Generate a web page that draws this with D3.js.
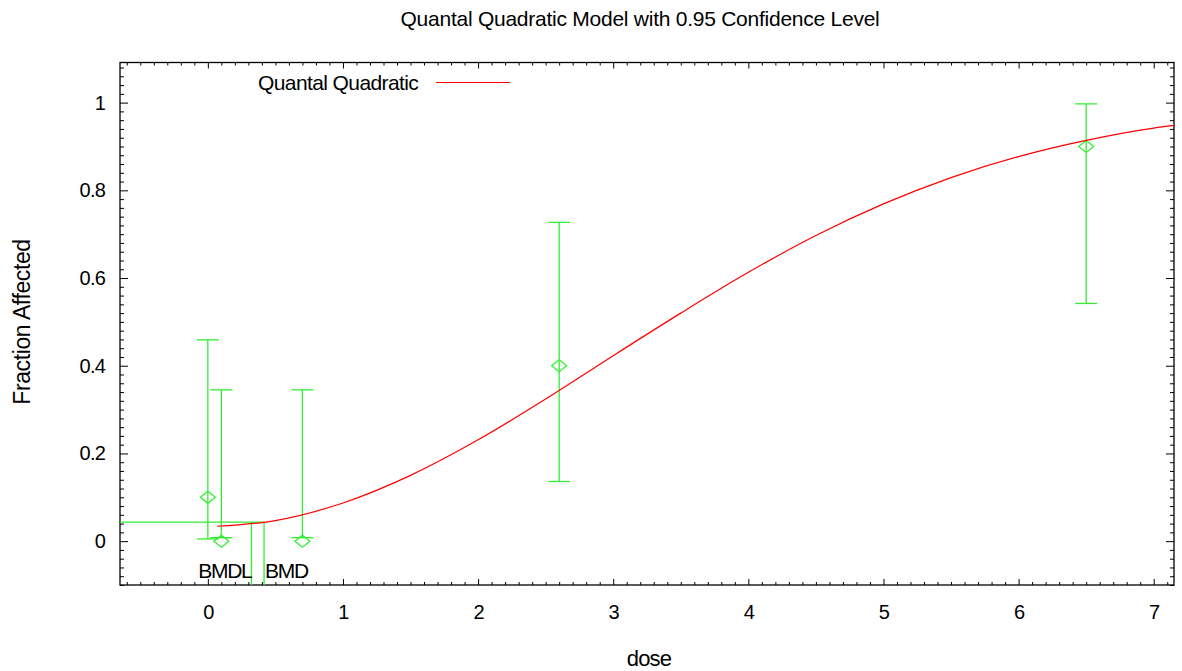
<!DOCTYPE html>
<html>
<head>
<meta charset="utf-8">
<script src="https://cdn.jsdelivr.net/npm/d3@7"></script>
<style>
  html, body { margin: 0; padding: 0; background: #fff; }
  svg { display: block; font-family: "Liberation Sans", Arial, sans-serif; }
  .domain { display: none; }
</style>
</head>
<body>
<svg id="chart" width="1182" height="671"></svg>
<script>
// ---- data ----
const doses    = [0, 0.1, 0.7, 2.6, 6.5];
const observed = [0.1, 0, 0, 0.4, 0.9];
const lowerCI  = [0.005, 0.008, 0.008, 0.136, 0.542];
const upperCI  = [0.459, 0.345, 0.345, 0.727, 0.997];

const curveDose = [0.07, 0.5, 1, 1.5, 2, 2.5, 3, 3.5, 4, 4.5, 5, 5.5, 6, 6.5, 7, 7.15];
const curveFrac = [0.034, 0.047, 0.087, 0.150, 0.231, 0.324, 0.423, 0.520, 0.613, 0.697, 0.769, 0.829, 0.877, 0.914, 0.942, 0.948];

const bmd = 0.416, bmdl = 0.323, bmrLevel = 0.0435;

const xTicks = [0, 1, 2, 3, 4, 5, 6, 7];
const yTicks = [0, 0.2, 0.4, 0.6, 0.8, 1];
const xDomain = [-0.65, 7.15];
const yDomain = [-0.1, 1.0915];

const titleText = "Quantal Quadratic Model with 0.95 Confidence Level";
const legendLabel = "Quantal Quadratic";
const xLabel = "dose";
const yLabel = "Fraction Affected";

// ---- layout ----
const svg = d3.select("#chart");
const L = 120, R = 1174, T = 62.5, B = 585;
const green = "#33ee33", red = "#ff0000";

const x = d3.scaleLinear().domain(xDomain).range([L, R]);
const y = d3.scaleLinear().domain(yDomain).range([B, T]);

const xMinor = d3.range(-6, 72).map(i => i / 10).filter(v => v >= xDomain[0] && v <= xDomain[1] && Math.abs(v - Math.round(v)) > 1e-6);
const yMinor = d3.range(-5, 55).map(i => i / 50).filter(v => v >= yDomain[0] && v <= yDomain[1] && Math.abs(v * 5 - Math.round(v * 5)) > 1e-6);

svg.append("defs").append("clipPath").attr("id", "plotclip")
  .append("rect").attr("x", L).attr("y", T).attr("width", R - L).attr("height", B - T);

// frame
svg.append("rect").attr("x", L).attr("y", T).attr("width", R - L).attr("height", B - T)
  .attr("fill", "none").attr("stroke", "#000").attr("stroke-width", 1.3);

const tickStyle = g => g.selectAll("line").attr("stroke", "#000").attr("stroke-width", 1);
const labelStyle = g => g.selectAll("text").attr("font-size", 20).attr("letter-spacing", -0.8)
  .attr("fill", "#000").style("font-family", "Liberation Sans, Arial, sans-serif");

// bottom axis (labels + major ticks)
svg.append("g").attr("transform", `translate(0,${B})`)
  .call(d3.axisBottom(x).tickValues(xTicks).tickSizeInner(-6).tickSizeOuter(0).tickPadding(20).tickFormat(d3.format("d")))
  .call(tickStyle).call(labelStyle);
svg.append("g").attr("transform", `translate(0,${B})`)
  .call(d3.axisBottom(x).tickValues(xMinor).tickSizeInner(-3).tickSizeOuter(0).tickFormat(""))
  .call(tickStyle);
// top axis
svg.append("g").attr("transform", `translate(0,${T})`)
  .call(d3.axisTop(x).tickValues(xTicks).tickSizeInner(-6).tickSizeOuter(0).tickFormat(""))
  .call(tickStyle);
svg.append("g").attr("transform", `translate(0,${T})`)
  .call(d3.axisTop(x).tickValues(xMinor).tickSizeInner(-3).tickSizeOuter(0).tickFormat(""))
  .call(tickStyle);
// left axis
svg.append("g").attr("transform", `translate(${L},0)`)
  .call(d3.axisLeft(y).tickValues(yTicks).tickSizeInner(-8).tickSizeOuter(0).tickPadding(15).tickFormat(d => d === 0 ? "0" : d === 1 ? "1" : d3.format(".1f")(d)))
  .call(tickStyle).call(labelStyle);
svg.append("g").attr("transform", `translate(${L},0)`)
  .call(d3.axisLeft(y).tickValues(yMinor).tickSizeInner(-4).tickSizeOuter(0).tickFormat(""))
  .call(tickStyle);
// right axis
svg.append("g").attr("transform", `translate(${R},0)`)
  .call(d3.axisRight(y).tickValues(yTicks).tickSizeInner(-8).tickSizeOuter(0).tickFormat(""))
  .call(tickStyle);
svg.append("g").attr("transform", `translate(${R},0)`)
  .call(d3.axisRight(y).tickValues(yMinor).tickSizeInner(-4).tickSizeOuter(0).tickFormat(""))
  .call(tickStyle);

const plot = svg.append("g").attr("clip-path", "url(#plotclip)");

// BMD / BMDL lines
plot.append("line").attr("x1", L).attr("x2", x(bmd)).attr("y1", y(bmrLevel)).attr("y2", y(bmrLevel))
  .attr("stroke", green).attr("stroke-width", 1.3);
plot.append("line").attr("x1", x(bmdl)).attr("x2", x(bmdl)).attr("y1", y(bmrLevel)).attr("y2", B)
  .attr("stroke", green).attr("stroke-width", 1.3);
plot.append("line").attr("x1", x(bmd)).attr("x2", x(bmd)).attr("y1", y(bmrLevel)).attr("y2", B)
  .attr("stroke", green).attr("stroke-width", 1.3);

// error bars
const capW = 11;
const eb = plot.selectAll(".eb").data(doses.map((d, i) => ({d, lo: lowerCI[i], hi: upperCI[i], v: observed[i]})))
  .enter().append("g").attr("stroke", green).attr("stroke-width", 1.3).attr("fill", "none");
eb.append("line").attr("x1", d => x(d.d)).attr("x2", d => x(d.d)).attr("y1", d => y(d.lo)).attr("y2", d => y(d.hi));
eb.append("line").attr("x1", d => x(d.d) - capW).attr("x2", d => x(d.d) + capW).attr("y1", d => y(d.lo)).attr("y2", d => y(d.lo));
eb.append("line").attr("x1", d => x(d.d) - capW).attr("x2", d => x(d.d) + capW).attr("y1", d => y(d.hi)).attr("y2", d => y(d.hi));
eb.append("path").attr("d", d => {
  const cx = x(d.d), cy = y(d.v), w = 7.5, h = 6;
  return `M${cx - w},${cy}L${cx},${cy - h}L${cx + w},${cy}L${cx},${cy + h}Z`;
});

// fitted curve
const line = d3.line().x((d, i) => x(curveDose[i])).y(d => y(d)).curve(d3.curveMonotoneX);
plot.append("path").attr("d", line(curveFrac)).attr("fill", "none").attr("stroke", red).attr("stroke-width", 1.2);

// BMDL / BMD labels
svg.append("text").attr("x", x(bmdl)).attr("y", 578).attr("text-anchor", "end")
  .attr("font-size", 21).attr("letter-spacing", -1.3).text("BMDL");
svg.append("text").attr("x", x(bmd) + 1).attr("y", 578).attr("text-anchor", "start")
  .attr("font-size", 21).attr("letter-spacing", -1.3).text("BMD");

// legend
svg.append("text").attr("x", 258).attr("y", 90).attr("font-size", 21).attr("letter-spacing", -0.6).text(legendLabel);
svg.append("line").attr("x1", 436).attr("x2", 510).attr("y1", 82.5).attr("y2", 82.5).attr("stroke", red).attr("stroke-width", 1.2);

// title
svg.append("text").attr("x", 640).attr("y", 26).attr("text-anchor", "middle")
  .attr("font-size", 21).attr("letter-spacing", -0.25).text(titleText);

// axis labels
svg.append("text").attr("x", 649).attr("y", 666).attr("text-anchor", "middle")
  .attr("font-size", 22).attr("letter-spacing", -0.8).text(xLabel);
svg.append("text").attr("transform", "translate(30,322) rotate(-90)").attr("text-anchor", "middle")
  .attr("font-size", 23).attr("letter-spacing", -0.4).text(yLabel);
</script>
</body>
</html>
